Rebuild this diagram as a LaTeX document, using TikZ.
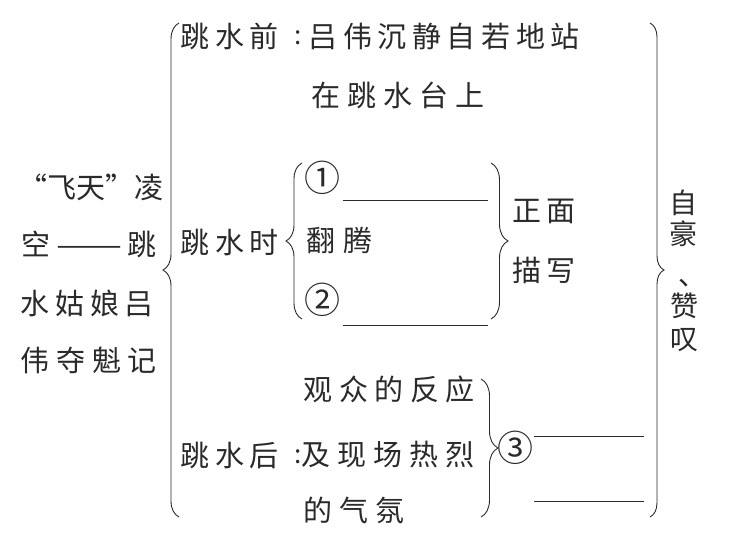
\documentclass[tikz,border=0pt]{standalone}
\usepackage{fontspec}
\setmainfont{Noto Sans CJK SC}
\usetikzlibrary{decorations.pathreplacing}
\definecolor{ink}{HTML}{2A2A2A}
\newcommand{\sprd}[2]{\makebox[#1pt][s]{#2}}
\begin{document}
\begin{tikzpicture}[x=1pt,y=-1pt,
  txt/.style={inner sep=0pt, anchor=west, text=ink, font=\fontsize{29}{29}\selectfont},
  ctxt/.style={inner sep=0pt, anchor=center, text=ink, font=\fontsize{26}{26}\selectfont},
  circ/.style={inner sep=0pt, anchor=center, text=ink, font=\fontsize{36}{36}\selectfont},
  vtxt/.style={inner sep=0pt, anchor=center, text=ink, font=\fontsize{28}{28}\selectfont},
  brc/.style={draw=ink, line width=0.9pt, decorate, decoration={brace, amplitude=#1}},
  blank/.style={draw=ink, line width=0.9pt}]
\useasboundingbox (0,0) rectangle (732,534);
\fill[white] (0,0) rectangle (732,534);

% left title
\node[txt] (l1) at (18.5,187) {\sprd{138}{“\hfill 飞\hfill 天\hfill ”\hfill 凌}};
\node[txt] (l2) at (21.5,244) {\sprd{135}{空\hfill \resizebox{66pt}{\height}{——}\hfill 跳}};
\node[txt] (l3) at (20.5,303) {\sprd{133}{水\hfill 姑\hfill 娘\hfill 吕}};
\node[txt] (l4) at (20.5,360) {\sprd{136}{伟\hfill 夺\hfill 魁\hfill 记}};

% before
\node[txt] (b1) at (180.5,36) {\sprd{98}{跳\hfill 水\hfill 前}};
\node[ctxt] (bc) at (298,38) {:};
\node[txt] (b2) at (308.5,36) {\sprd{271}{吕\hfill 伟\hfill 沉\hfill 静\hfill 自\hfill 若\hfill 地\hfill 站}};
\node[txt] (b3) at (311.5,95) {\sprd{173}{在\hfill 跳\hfill 水\hfill 台\hfill 上}};

% during
\node[txt] (d1) at (180.5,242) {\sprd{98}{跳\hfill 水\hfill 时}};
\node[circ] (n1) at (322,178) {①};
\node[txt] (d2) at (306,240) {\sprd{66}{翻\hfill 腾}};
\node[circ] (n2) at (322,300) {②};
\node[txt] (z1) at (512.5,211) {\sprd{63}{正\hfill 面}};
\node[txt] (z2) at (512.5,270) {\sprd{63}{描\hfill 写}};

% after
\node[txt] (a1) at (303.5,389) {\sprd{171}{观\hfill 众\hfill 的\hfill 反\hfill 应}};
\node[txt] (a2) at (180.5,455) {\sprd{98}{跳\hfill 水\hfill 后}};
\node[ctxt] (ac) at (298,457) {:};
\node[txt] (a3) at (301.5,455) {\sprd{173}{及\hfill 现\hfill 场\hfill 热\hfill 烈}};
\node[txt] (a4) at (303.5,510) {\sprd{101}{的\hfill 气\hfill 氛}};
\node[circ] (n3) at (515,448) {③};

% right vertical
\node[vtxt] (r1) at (683,203) {自};
\node[vtxt] (r2) at (683,234) {豪};
\node[inner sep=0pt, anchor=base west, text=ink, font=\fontsize{28}{28}\selectfont] (r3) at (678,286) {、};
\node[vtxt] (r4) at (684,306) {赞};
\node[vtxt] (r5) at (684,340) {叹};

% blanks
\coordinate (k1a) at (343,200); \coordinate (k1b) at (488,200);
\coordinate (k2a) at (343,325); \coordinate (k2b) at (488,325);
\coordinate (k3a) at (534,436); \coordinate (k3b) at (644,436);
\coordinate (k4a) at (534,501); \coordinate (k4b) at (644,501);
\draw[blank] (k1a) -- (k1b);
\draw[blank] (k2a) -- (k2b);
\draw[blank] (k3a) -- (k3b);
\draw[blank] (k4a) -- (k4b);

% braces
\coordinate (bl1) at (179,517); \coordinate (bl2) at (179,23);
\coordinate (br1) at (650,23); \coordinate (br2) at (650,517);
\coordinate (il1) at (302,319); \coordinate (il2) at (302,163);
\coordinate (ir1) at (491,163); \coordinate (ir2) at (491,319);
\coordinate (tr1) at (481,379); \coordinate (tr2) at (481,517);
\draw[brc=16] (bl1) -- (bl2);
\draw[brc=14] (br1) -- (br2);
\draw[brc=16] (il1) -- (il2);
\draw[brc=17] (ir1) -- (ir2);
\draw[brc=17] (tr1) -- (tr2);
\end{tikzpicture}
\end{document}
